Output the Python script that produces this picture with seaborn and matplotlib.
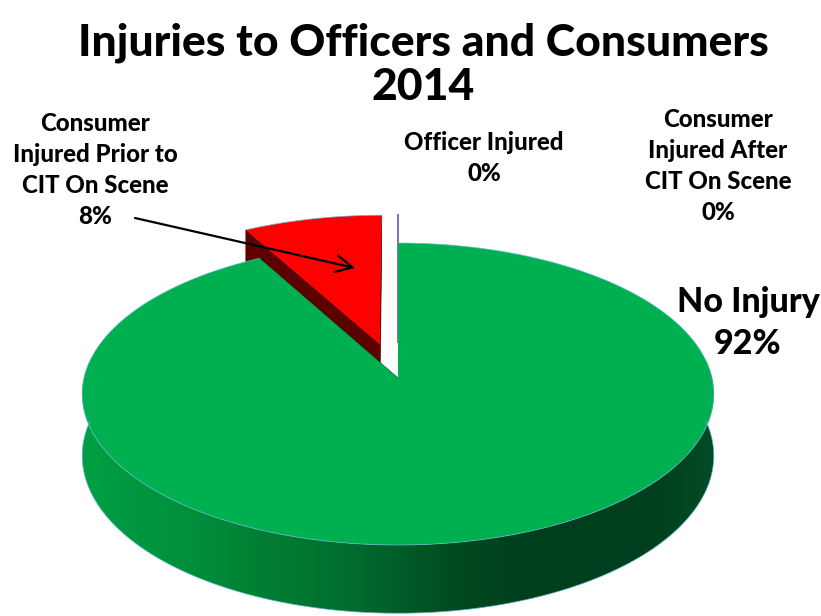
import numpy as np
import matplotlib
matplotlib.use("Agg")
import matplotlib.pyplot as plt
from matplotlib.patches import Polygon
from matplotlib.colors import LinearSegmentedColormap
import seaborn as sns

# ---- data -------------------------------------------------------------
categories = ["No Injury", "Consumer Injured Prior to CIT On Scene",
              "Officer Injured", "Consumer Injured After CIT On Scene"]
label_lines = [["No Injury"],
               ["Consumer", "Injured Prior to", "CIT On Scene"],
               ["Officer Injured"],
               ["Consumer", "Injured After", "CIT On Scene"]]
percentages = [92, 8, 0, 0]
explode = [0.0, 0.24, 0.24, 0.24]
slice_colors = ["#00b050", "#ff0000", "#8a6cc0", "#4bacc6"]
title_lines = ["Injuries to Officers and Consumers", "2014"]

# ---- style ------------------------------------------------------------
sns.set_theme(style="white")
plt.rcParams["font.family"] = ["Lato", "DejaVu Sans"]

W, H = 821, 616
fig = plt.figure(figsize=(W / 100, H / 100), dpi=100)
ax = fig.add_axes([0, 0, 1, 1])
ax.set_xlim(0, W)
ax.set_ylim(H, 0)
ax.axis("off")

# perspective view of a flat cylinder (the pie), pixel space
CX, CY, A, B, K, DEPTH = 398, 378, 314, 149.3, 0.106, 61


def project(u, v, z=0.0):
    den = 1 + K * v
    return CX + A * u / den, CY + (-B * v + z * DEPTH) / den


# shading of the green rim, dark to the right
rim_cmap = LinearSegmentedColormap.from_list(
    "rim",
    [(0.00, "#00a044"), (0.18, "#008d3a"), (0.44, "#006a2c"),
     (0.58, "#004d22"), (0.69, "#003f1d"), (0.90, "#003f1d"),
     (1.00, "#004c25")])


def darken(c, f):
    rgb = np.array(matplotlib.colors.to_rgb(c))
    return tuple(rgb * f)


fracs = np.array(percentages, dtype=float) / sum(percentages)
ends = 90 - 360 * np.cumsum(fracs)
starts = np.r_[90, ends[:-1]]
mids = (starts + ends) / 2

order = np.argsort(-np.sin(np.radians(mids)))  # back slices first
outline = "#5fb9d3"
gradient = np.linspace(0, 1, 512)[None, :]

for i in order:
    t0, t1, m = starts[i], ends[i], mids[i]
    ou = explode[i] * np.cos(np.radians(m))
    ov = explode[i] * np.sin(np.radians(m))
    col = slice_colors[i]

    if fracs[i] == 0:
        x0, y0 = project(ou, ov)
        x1, y1 = project(ou + np.cos(np.radians(t0)), ov + np.sin(np.radians(t0)))
        ax.plot([x0, x1], [y0, y1], color=col, lw=1.3, solid_capstyle="butt", zorder=2)
        continue

    th = np.radians(np.linspace(t0, t1, max(int(abs(t1 - t0) * 2), 8)))
    uu = ou + np.cos(th)
    vv = ov + np.sin(th)

    # outer rim: the part facing the viewer, as one shaded band
    front = np.sin(th) < 0.12
    if front.sum() > 1:
        tops = [project(a, b) for a, b in zip(uu[front], vv[front])]
        bots = [project(a, b, 1) for a, b in zip(uu[front], vv[front])]
        band = Polygon(tops + bots[::-1], closed=True, fc="none", ec="none")
        ax.add_patch(band)
        if col == slice_colors[0]:
            img = ax.imshow(gradient, cmap=rim_cmap, aspect="auto",
                            extent=(82, 714, 620, 300), zorder=3,
                            interpolation="bilinear")
            img.set_clip_path(band)
        else:
            band.set_facecolor(darken(col, 0.45))
            band.set_zorder(3)

    # radial cut faces
    for ang in (t0, t1):
        ru = ou + np.cos(np.radians(ang))
        rv = ov + np.sin(np.radians(ang))
        p = [project(ou, ov), project(ru, rv), project(ru, rv, 1), project(ou, ov, 1)]
        fc = darken(col, 0.36)
        ax.add_patch(Polygon(p, closed=True, fc=fc, ec=fc, lw=0.5, zorder=3))

    # top face
    top = [project(ou, ov)] + [project(a, b) for a, b in zip(uu, vv)]
    ax.add_patch(Polygon(top, closed=True, fc=col, ec="none", zorder=4))

    # thin highlight on the outer edges
    rim_top = np.array([project(a, b) for a, b in zip(uu, vv)])
    ax.plot(rim_top[:, 0], rim_top[:, 1], color=outline, lw=0.6, alpha=0.8, zorder=5)
    if col == slice_colors[0]:
        rb = np.array([project(a, b, 1) for a, b in zip(uu[front], vv[front])])
        ax.plot(rb[:, 0], rb[:, 1], color=outline, lw=0.6, alpha=0.8, zorder=5)

ax.set_xlim(0, W)
ax.set_ylim(H, 0)

# ---- title ------------------------------------------------------------
ax.text(423, 43, title_lines[0], ha="center", va="center",
        fontsize=32, fontweight="black", color="black")
ax.text(423, 87, title_lines[1], ha="center", va="center",
        fontsize=32, fontweight="black", color="black")

# ---- slice labels -----------------------------------------------------
label_pos = [(748, 323), (95, 170), (484, 158), (718, 166)]
label_size = [24.5, 17.3, 17.3, 17.3]
for lines, pct, (lx, ly), fs in zip(label_lines, percentages, label_pos, label_size):
    ax.text(lx, ly, "\n".join(lines + [f"{pct:.0f}%"]), ha="center", va="center",
            fontsize=fs, fontweight="black", color="black", linespacing=1.42, zorder=6)

ax.annotate("", xy=(355, 268), xytext=(135, 218),
            arrowprops=dict(arrowstyle="->", lw=1.6, color="black",
                            mutation_scale=30, shrinkA=0, shrinkB=0),
            zorder=7)

fig.savefig("out.png", dpi=100)
